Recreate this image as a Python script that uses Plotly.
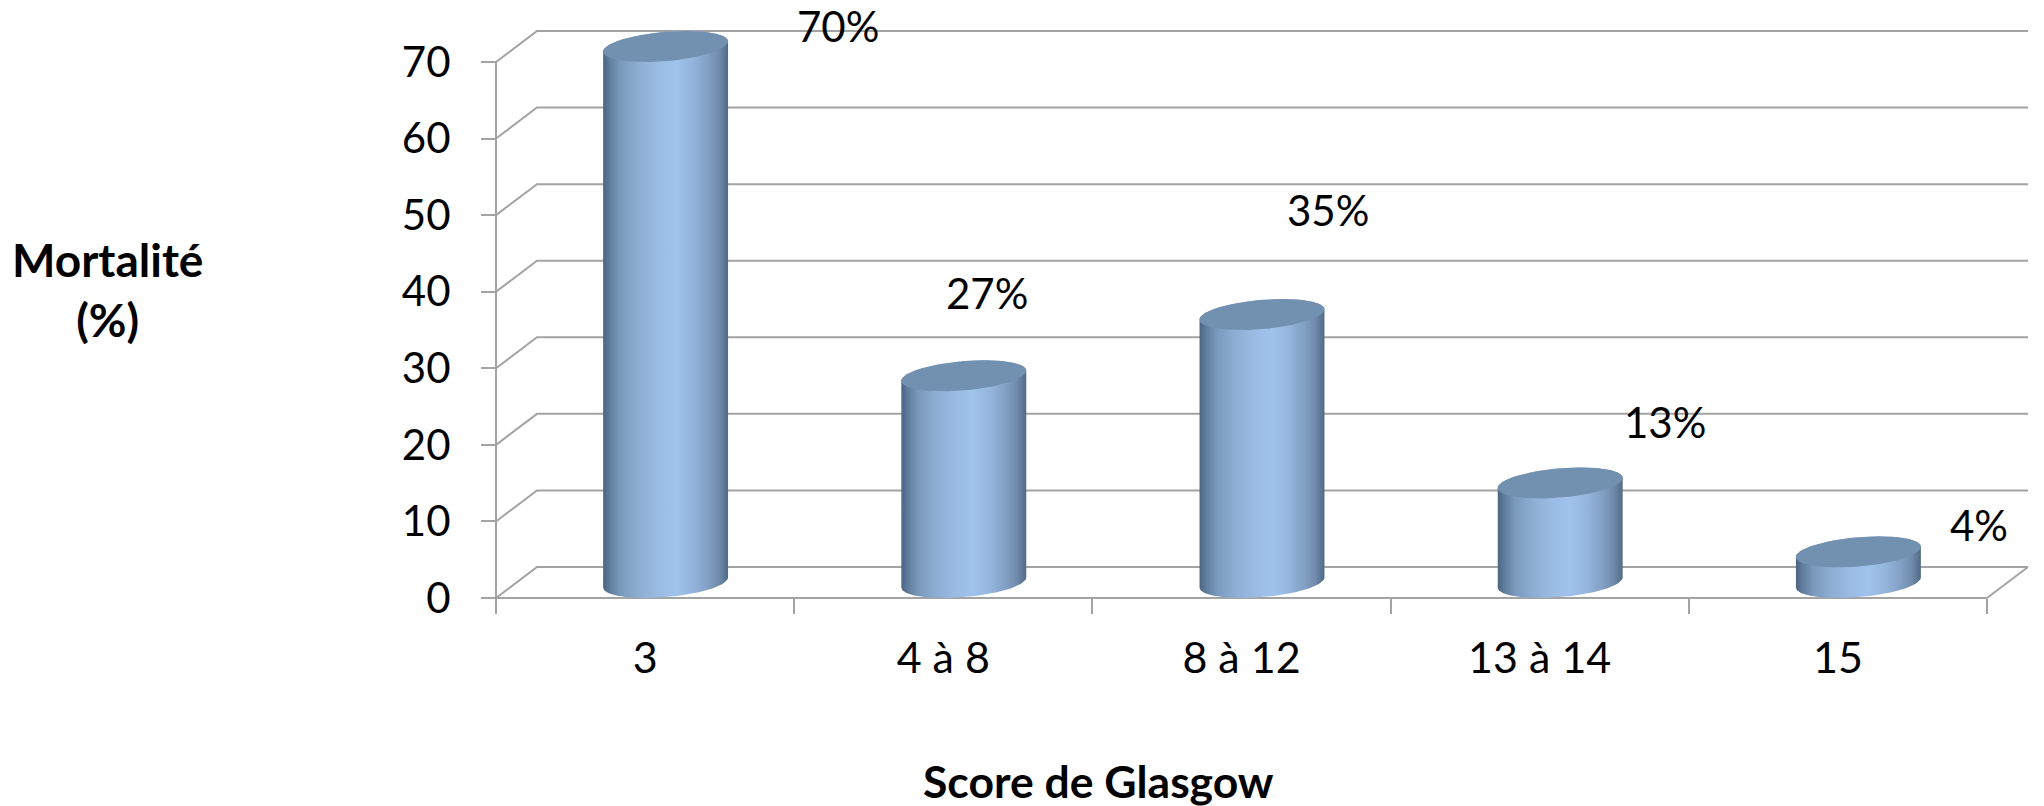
import numpy as np
import plotly.graph_objects as go

# Mortality by Glasgow score
categories = ["3", "4 à 8", "8 à 12", "13 à 14", "15"]
mortality = [70, 27, 35, 13, 4]
y_ticks = [0, 10, 20, 30, 40, 50, 60, 70]

# Pixel frame of the front plane of the 3D box
LEFT, RIGHT, TOP, BOTTOM = 496, 1987, 62, 598
WIDTH, HEIGHT = 2044, 806
DEPTH_PX_X, DEPTH_PX_Y = 41, 31
PAD = 3                                      # spare px so edge lines are not cut
UNIT_X = (RIGHT - LEFT) / len(categories)    # px per category
UNIT_Y = (BOTTOM - TOP) / 70                 # px per percentage point
DEPTH_X, DEPTH_Y = DEPTH_PX_X / UNIT_X, DEPTH_PX_Y / UNIT_Y

GRID = "#a3a3a3"
FONT = "Lato"

# Cylinder footprint in data units: an ellipse sheared along the box depth
RAD_A, RAD_B, RAD_C = 59 / UNIT_X, 20.5 / UNIT_X, 15.5 / UNIT_Y
T_EDGE = np.arctan2(RAD_B, RAD_A)


def ring(t, cx, level):
    return (cx + RAD_A * np.cos(t) + RAD_B * np.sin(t),
            level + RAD_C + RAD_C * np.sin(t))


GRADIENT = [
    [0.0, "#4b6582"], [0.06, "#63809f"], [0.14, "#7a99bd"], [0.28, "#8eadd3"],
    [0.45, "#9bbce4"], [0.58, "#a0c2ec"], [0.72, "#94b4dc"], [0.84, "#829fc4"],
    [0.93, "#6f8aaa"], [1.0, "#506a86"],
]

fig = go.Figure()

# Box frame: back wall, side wall, floor and the two front axis lines
x0, x1 = -0.5, len(categories) - 0.5
wall_x, wall_y = [], []
for v in y_ticks:
    wall_x += [x0, x0 + DEPTH_X, x1 + DEPTH_X, None]
    wall_y += [v, v + DEPTH_Y, v + DEPTH_Y, None]
wall_x += [x1, x1 + DEPTH_X, None, x0, x1, None, x0, x0]
wall_y += [0, DEPTH_Y, None, 0, 0, None, 0, max(y_ticks)]
fig.add_trace(go.Scatter(x=wall_x, y=wall_y, mode="lines",
                         line=dict(color=GRID, width=2),
                         hoverinfo="skip", showlegend=False))

# Cylinders: shaded body first, flat cap on top
for i, value in enumerate(mortality):
    cx = i + DEPTH_X / 2
    low = np.linspace(T_EDGE + np.pi, T_EDGE + 2 * np.pi, 60)
    high = np.linspace(T_EDGE, T_EDGE + np.pi, 60)
    bx, by = ring(low, cx, 0)
    tx, ty = ring(high, cx, value)
    fig.add_trace(go.Scatter(
        x=np.r_[bx, tx], y=np.r_[by, ty], mode="lines",
        line=dict(width=0), fill="toself",
        fillgradient=dict(type="horizontal", colorscale=GRADIENT),
        hoverinfo="skip", showlegend=False))
    cap_x, cap_y = ring(np.linspace(0, 2 * np.pi, 120), cx, value)
    fig.add_trace(go.Scatter(
        x=cap_x, y=cap_y, mode="lines", line=dict(width=0),
        fill="toself", fillcolor="#7290af",
        hoverinfo="skip", showlegend=False))

# Value labels, each nudged by hand off its cylinder (px)
label_shift = [(172, 5), (23, 67), (66, 89), (105, 45), (121, 11)]
annotations = []
for i, (value, (dx, dy)) in enumerate(zip(mortality, label_shift)):
    annotations.append(dict(
        x=i + DEPTH_X / 2, y=value + 2 * RAD_C, xref="x", yref="y",
        xanchor="center", yanchor="middle",
        text=f"{value}%", showarrow=False, xshift=dx, yshift=dy,
        font=dict(family=FONT, size=42, color="#000000")))

# Plot area in px, wide enough to hold the depth of the box
plot_l, plot_r = LEFT - PAD, RIGHT + DEPTH_PX_X + PAD
plot_t, plot_b = TOP - DEPTH_PX_Y - PAD, BOTTOM + PAD
plot_w, plot_h = plot_r - plot_l, plot_b - plot_t

# Axis titles
annotations.append(dict(
    x=(108 - plot_l) / plot_w, y=(plot_b - 289) / plot_h,
    xref="paper", yref="paper", xanchor="center", yanchor="middle",
    text="<b>Mortalité<br>(%)</b>", showarrow=False,
    font=dict(family=FONT, size=46, color="#000000"), align="center"))
annotations.append(dict(
    x=(1098 - plot_l) / plot_w, y=(plot_b - 780) / plot_h,
    xref="paper", yref="paper", xanchor="center", yanchor="middle",
    text="<b>Score de Glasgow</b>", showarrow=False,
    font=dict(family=FONT, size=44.5, color="#000000")))

fig.update_layout(
    width=WIDTH, height=HEIGHT,
    margin=dict(l=plot_l, r=WIDTH - plot_r, t=plot_t, b=HEIGHT - plot_b, pad=0),
    paper_bgcolor="white", plot_bgcolor="rgba(0,0,0,0)",
    showlegend=False, annotations=annotations,
    xaxis=dict(range=[x0 - PAD / UNIT_X, x1 + DEPTH_X + PAD / UNIT_X],
               anchor="free", position=PAD / plot_h,
               tickmode="array",
               tickvals=list(range(len(categories))), ticktext=categories,
               ticks="", showline=False, showgrid=False, zeroline=False,
               ticklabelstandoff=31,
               minor=dict(tickmode="array",
                          tickvals=[i - 0.5 for i in range(len(categories) + 1)],
                          ticks="outside", ticklen=15, tickcolor=GRID,
                          tickwidth=1.5, showgrid=False),
               tickfont=dict(family=FONT, size=43, color="#000000")),
    yaxis=dict(range=[-PAD / UNIT_Y, max(y_ticks) + DEPTH_Y + PAD / UNIT_Y],
               anchor="free", position=PAD / plot_w,
               tickmode="array", tickvals=y_ticks,
               ticktext=[str(v) for v in y_ticks], ticks="outside", ticklen=15,
               tickcolor=GRID, tickwidth=1.5, showline=False,
               showgrid=False, zeroline=False,
               ticklabelstandoff=22,
               tickfont=dict(family=FONT, size=42, color="#000000")),
)

fig.write_html("out.html", config=dict(displayModeBar=False))
